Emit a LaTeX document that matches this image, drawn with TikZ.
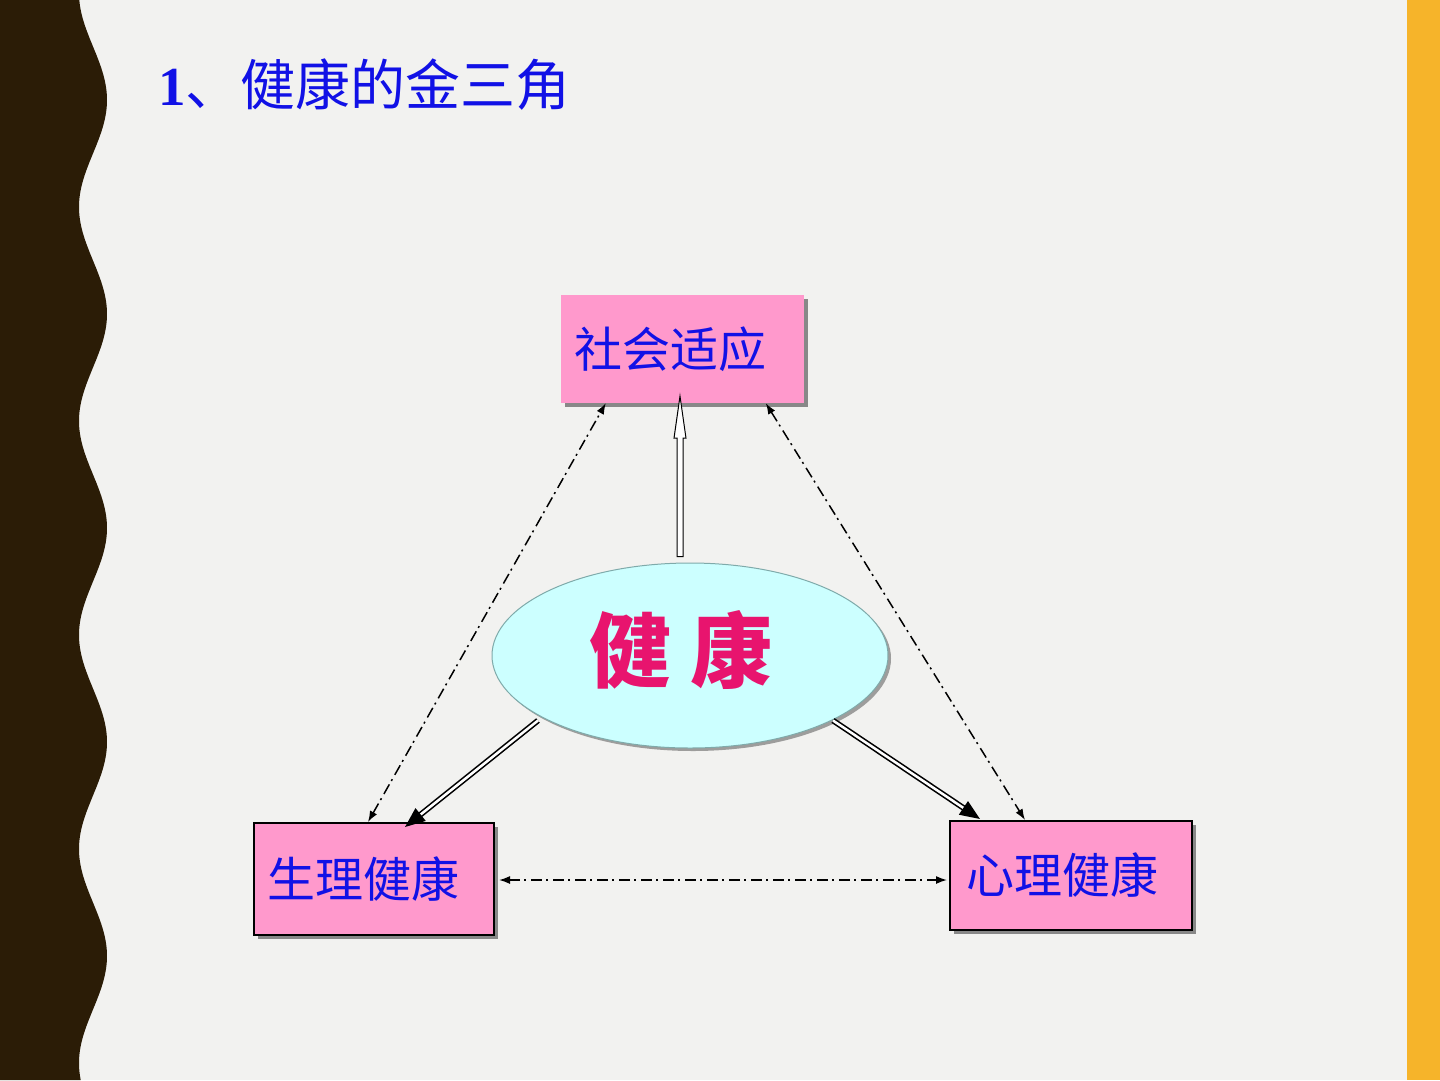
\documentclass[tikz,border=0pt]{standalone}
\usepackage{fontspec}
\setmainfont{Liberation Serif}
\newfontfamily\cjk{Noto Sans CJK SC}
\usetikzlibrary{arrows.meta,shapes.geometric,shadows,calc}
\definecolor{bgc}{HTML}{F2F2F0}
\definecolor{wavec}{HTML}{2B1C06}
\definecolor{barc}{HTML}{F6B42A}
\definecolor{pinkc}{HTML}{FF99CC}
\definecolor{cyanc}{HTML}{CCFFFF}
\definecolor{ellc}{HTML}{7FAAAA}
\definecolor{tblue}{HTML}{1111E6}
\definecolor{magc}{HTML}{E8146E}
\definecolor{shc}{HTML}{888888}
\begin{document}
\begin{tikzpicture}[x=1pt,y=-1pt,
  boxstyle/.style={rectangle, fill=pinkc, text=tblue, align=left, inner ysep=0pt,
    font=\cjk\fontsize{48}{50}\selectfont,
    drop shadow={shadow xshift=4pt,shadow yshift=-4pt,fill=shc,opacity=1}},
  ddarrow/.style={line width=1.5pt, dash pattern=on 11pt off 4pt on 2pt off 5pt,
    {Latex[length=11pt,width=8pt]}-{Latex[length=11pt,width=8pt]}},
  dblarrow/.style={line width=1.6pt, double=white, double distance=2.5pt,
    -{Triangle[length=20pt,width=16pt]}}]
\useasboundingbox (0,0) rectangle (1440,1080);
\fill[bgc] (0,0) rectangle (1440,1080);
% wavy left border
\fill[wavec] (0,0) -- plot[domain=0:1080, samples=240, smooth] ({93+14*cos((\x-100)/214*360)}, \x) -- (0,1080) -- cycle;
% right bar
\fill[barc] (1407,0) rectangle (1440,1080);
% title
\node[anchor=west, text=tblue, inner sep=0pt, font=\fontsize{55}{60}\selectfont] (title) at (158,85)
  {\textbf{1}{\cjk 、健康的金三角}};
% nodes
\node[boxstyle, draw=none, minimum height=108pt, text width=217pt, inner xsep=13pt] (top) at (682.5,349) {社会适应};
\node[boxstyle, draw=black, line width=2pt, minimum height=112pt, text width=214pt, inner xsep=13pt] (lb) at (374,879) {生理健康};
\node[boxstyle, draw=black, line width=2pt, minimum height=109pt, text width=210pt, inner xsep=16pt] (rb) at (1071,875.5) {心理健康};
\node[ellipse, fill=cyanc, draw=ellc, line width=1pt, minimum width=396pt, minimum height=185pt,
  drop shadow={shadow xshift=3pt,shadow yshift=-3pt,fill=shc,opacity=0.8},
  text=magc, font=\cjk\bfseries\fontsize{82}{82}\selectfont] (ell) at (690,655.5)
  {\hspace{-18pt}\raisebox{0pt}[\height][\dimexpr\depth+12pt\relax]{健 康}};
% dash-dot connectors
\draw[ddarrow] ($(lb.north west)+(115,0)$) -- ($(top.south west)+(45,0)$);
\draw[ddarrow] ($(top.south west)+(205,0)$) -- ($(rb.north west)+(76,0)$);
\draw[ddarrow] ($(lb.east)+(4,1)$) -- ($(rb.west |- lb.east)+(-2,1)$);
% double arrows
\draw[dblarrow] ($(ell.center)+(-152,65)$) -- ($(lb.north west)+(152,5)$);
\draw[dblarrow] ($(ell.center)+(143,65)$) -- ($(rb.north west)+(31,-1)$);
% open up arrow
\coordinate (upb) at ($(ell.north)+(-10,-6)$);
\coordinate (upt) at ($(top.south)+(-2.5,-7)$);
\draw[fill=white, line width=1pt, line join=miter] ($(upb)+(-3,0)$) -- ($(upt)+(-3,42)$) -- ($(upt)+(-6,42)$) -- (upt)
  -- ($(upt)+(6,42)$) -- ($(upt)+(3,42)$) -- ($(upb)+(3,0)$) -- cycle;
\end{tikzpicture}
\end{document}
